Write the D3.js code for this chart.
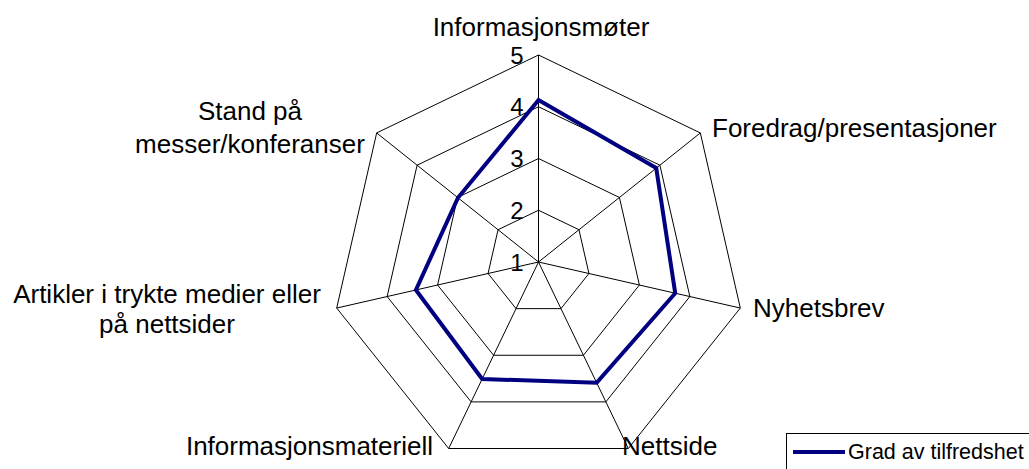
<!DOCTYPE html>
<html>
<head>
<meta charset="utf-8">
<script src="https://cdn.jsdelivr.net/npm/d3@7"></script>
<style>
  html, body { margin: 0; padding: 0; background: #fff; }
  svg { display: block; font-family: "Liberation Sans", Arial, sans-serif; }
</style>
</head>
<body>
<svg id="chart" width="1029" height="469"></svg>
<script>
const categories = [
  "Informasjonsmøter",
  "Foredrag/presentasjoner",
  "Nyhetsbrev",
  "Nettside",
  "Informasjonsmateriell",
  "Artikler i trykte medier eller på nettsider",
  "Stand på messer/konferanser"
];
const values = [4.13, 3.91, 3.71, 3.59, 3.51, 3.43, 2.99];
const seriesName = "Grad av tilfredshet";
const tickValues = [1, 2, 3, 4, 5];

const svg = d3.select("#chart");
const cx = 538.5, cy = 262;
const r = d3.scaleLinear().domain([1, 5]).range([0, 207]);
const n = categories.length;
const angle = d3.scaleLinear().domain([0, n]).range([0, 2 * Math.PI]);
const pt = (i, v) => {
  const a = angle(i);
  return [cx + r(v) * Math.sin(a), cy - r(v) * Math.cos(a)];
};

const g = svg.append("g");

// rings
tickValues.filter(t => t > 1).forEach(t => {
  g.append("path")
    .attr("d", d3.line()(d3.range(n).map(i => pt(i, t))) + "Z")
    .attr("fill", "none").attr("stroke", "#000").attr("stroke-width", 1);
});
// spokes
d3.range(n).forEach(i => {
  const p = pt(i, 5);
  g.append("line").attr("x1", cx).attr("y1", cy).attr("x2", p[0]).attr("y2", p[1])
    .attr("stroke", "#000").attr("stroke-width", 1);
});

// tick labels
g.selectAll(".tick").data(tickValues).enter().append("text")
  .attr("x", cx - 15).attr("y", d => cy - r(d))
  .attr("dy", "0.36em")
  .attr("text-anchor", "end")
  .attr("font-size", 24)
  .text(d => d);

// series
g.append("path")
  .attr("d", d3.line()(values.map((v, i) => pt(i, v))) + "Z")
  .attr("fill", "none").attr("stroke", "#000080").attr("stroke-width", 4)
  .attr("stroke-linejoin", "miter");

// category labels
const labelSpec = [
  { x: 541, y: 35.7, anchor: "middle", lines: [categories[0]] },
  { x: 712, y: 136.7, anchor: "start", lines: [categories[1]] },
  { x: 753, y: 316.7, anchor: "start", lines: [categories[2]] },
  { x: 622, y: 454.5, anchor: "start", lines: [categories[3]] },
  { x: 433, y: 454.5, anchor: "end", lines: [categories[4]] },
  { x: 167, y: 303.3, anchor: "middle", lines: ["Artikler i trykte medier eller", "på nettsider"], lh: 30 },
  { x: 250, y: 120, anchor: "middle", lines: ["Stand på", "messer/konferanser"], lh: 33 }
];
labelSpec.forEach(s => {
  const t = g.append("text").attr("text-anchor", s.anchor).attr("font-size", 26);
  s.lines.forEach((l, k) => {
    t.append("tspan").attr("x", s.x).attr("y", s.y + k * (s.lh || 0)).text(l);
  });
});

// legend
const lg = svg.append("g");
lg.append("rect").attr("x", 786.5).attr("y", 433.5).attr("width", 260).attr("height", 60)
  .attr("fill", "#fff").attr("stroke", "#000").attr("stroke-width", 1);
lg.append("line").attr("x1", 793).attr("x2", 845).attr("y1", 452).attr("y2", 452)
  .attr("stroke", "#000080").attr("stroke-width", 4);
lg.append("text").attr("x", 848).attr("y", 459).attr("font-size", 21.5).text(seriesName);
</script>
</body>
</html>
